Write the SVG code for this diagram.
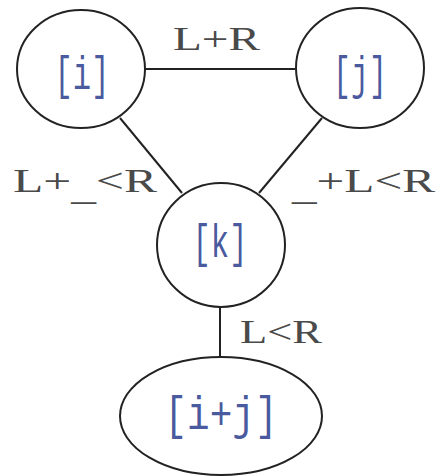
<svg xmlns="http://www.w3.org/2000/svg" width="440" height="476" viewBox="0 0 440 476">
<style>
.node{fill:#fff;stroke:#222;stroke-width:2}
.edge{stroke:#222;stroke-width:2;fill:none}
.nl{font-family:"Liberation Mono",monospace;font-size:46px;fill:#4a5a9e;text-anchor:middle}
.el{font-family:"Liberation Serif",serif;font-size:34px;fill:#4a4a4a}
</style>
<rect width="440" height="476" fill="#fff"/>
<g id="connectors">
<line class="edge" x1="145" y1="69" x2="295" y2="69"/>
<line class="edge" x1="120" y1="118" x2="182" y2="193"/>
<line class="edge" x1="322" y1="118" x2="259" y2="193"/>
<line class="edge" x1="220" y1="307" x2="220" y2="357"/>
<text class="el" x="173" y="50" textLength="87" lengthAdjust="spacingAndGlyphs">L+R</text>
<text class="el" x="13" y="192" textLength="144" lengthAdjust="spacingAndGlyphs">L+<tspan dy="8">_</tspan><tspan dy="-8">&lt;R</tspan></text>
<text class="el" x="292" y="192" textLength="143" lengthAdjust="spacingAndGlyphs"><tspan dy="8">_</tspan><tspan dy="-8">+L&lt;R</tspan></text>
<text class="el" x="240" y="343" textLength="82" lengthAdjust="spacingAndGlyphs">L&lt;R</text>
</g>
<g id="node-i">
<ellipse class="node" cx="81" cy="69" rx="64" ry="59"/>
<text class="nl" x="82" y="89" textLength="55" lengthAdjust="spacingAndGlyphs">[i]</text>
</g>
<g id="node-j">
<ellipse class="node" cx="360" cy="68" rx="64" ry="60"/>
<text class="nl" x="360" y="89" textLength="54" lengthAdjust="spacingAndGlyphs">[j]</text>
</g>
<g id="node-k">
<ellipse class="node" cx="221" cy="245" rx="64" ry="62"/>
<text class="nl" x="220" y="257" textLength="55" lengthAdjust="spacingAndGlyphs">[k]</text>
</g>
<g id="node-ij">
<ellipse class="node" cx="221" cy="416" rx="101" ry="59"/>
<text class="nl" x="221" y="429" textLength="113" lengthAdjust="spacingAndGlyphs">[i+j]</text>
</g>
</svg>
